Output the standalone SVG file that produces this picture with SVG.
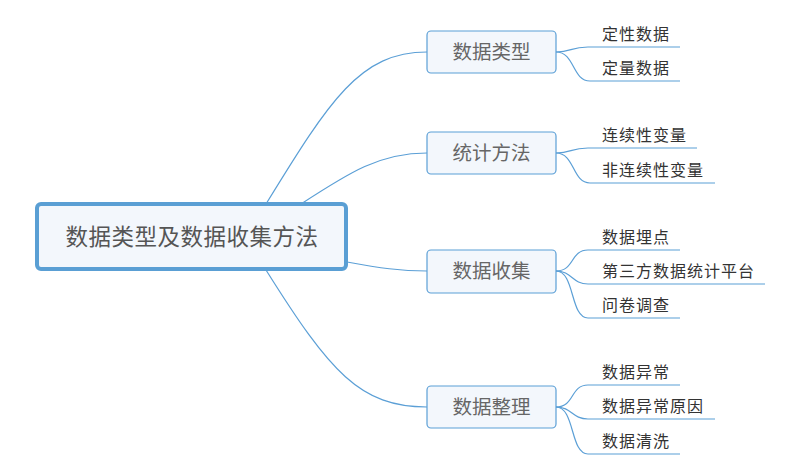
<svg xmlns="http://www.w3.org/2000/svg" width="800" height="475" viewBox="0 0 800 475">
<style>
.c{fill:none;stroke:#5b9fd6;stroke-width:1.2}
.box{fill:#f3f7fc;stroke:#5b9fd6;stroke-width:1.2}
.main{fill:#f3f7fc;stroke:#5a9fd4;stroke-width:4}
text{font-family:"Noto Sans CJK SC","Liberation Sans",sans-serif}
.t0{font-size:22.5px;fill:#555;text-anchor:middle;letter-spacing:0.5px}
.t1{font-size:19.5px;fill:#666;text-anchor:middle}
.t2{font-size:16px;fill:#333;letter-spacing:1px}
</style>
<rect width="800" height="475" fill="#fff"/>
<g id="connectors">
<path class="c" d="M266,204 C330,100 360,52 427,52"/>
<path class="c" d="M301,204 C350,172 380,153 427,153"/>
<path class="c" d="M347,262 C380,268 400,271 427,271"/>
<path class="c" d="M266,270 C330,372 360,407 427,407"/>
<path class="c" d="M556,52 C572,52 570,47 588,47 L680,47"/>
<path class="c" d="M556,52 C575,52 572,81 590,81 L680,81"/>
<path class="c" d="M556,153 C572,153 570,148 588,148 L697,148"/>
<path class="c" d="M556,153 C575,153 572,183 590,183 L715,183"/>
<path class="c" d="M556,271 C575,271 570,250 588,250 L680,250"/>
<path class="c" d="M556,271 C572,271 572,284 588,284 L765,284"/>
<path class="c" d="M556,271 C575,271 570,318 588,318 L680,318"/>
<path class="c" d="M556,407 C575,407 570,385 588,385 L680,385"/>
<path class="c" d="M556,407 C572,407 572,419 588,419 L715,419"/>
<path class="c" d="M556,407 C575,407 570,454 588,454 L680,454"/>
</g>
<g id="root">
<rect class="main" x="37" y="204" width="309" height="65" rx="4"/>
<text class="t0" x="192" y="245">数据类型及数据收集方法</text>
</g>
<g id="b1">
<rect class="box" x="427" y="31" width="129" height="42" rx="4"/>
<text class="t1" x="491.5" y="59">数据类型</text>
</g>
<g id="b2">
<rect class="box" x="427" y="132" width="129" height="42" rx="4"/>
<text class="t1" x="491.5" y="160">统计方法</text>
</g>
<g id="b3">
<rect class="box" x="427" y="250" width="129" height="43" rx="4"/>
<text class="t1" x="491.5" y="278">数据收集</text>
</g>
<g id="b4">
<rect class="box" x="427" y="386" width="129" height="42" rx="4"/>
<text class="t1" x="491.5" y="414">数据整理</text>
</g>
<g id="l1"><text class="t2" x="602" y="40">定性数据</text></g>
<g id="l2"><text class="t2" x="602" y="74">定量数据</text></g>
<g id="l3"><text class="t2" x="602" y="141">连续性变量</text></g>
<g id="l4"><text class="t2" x="602" y="176">非连续性变量</text></g>
<g id="l5"><text class="t2" x="602" y="243">数据埋点</text></g>
<g id="l6"><text class="t2" x="602" y="277">第三方数据统计平台</text></g>
<g id="l7"><text class="t2" x="602" y="311">问卷调查</text></g>
<g id="l8"><text class="t2" x="602" y="378">数据异常</text></g>
<g id="l9"><text class="t2" x="602" y="412">数据异常原因</text></g>
<g id="l10"><text class="t2" x="602" y="447">数据清洗</text></g>
</svg>
